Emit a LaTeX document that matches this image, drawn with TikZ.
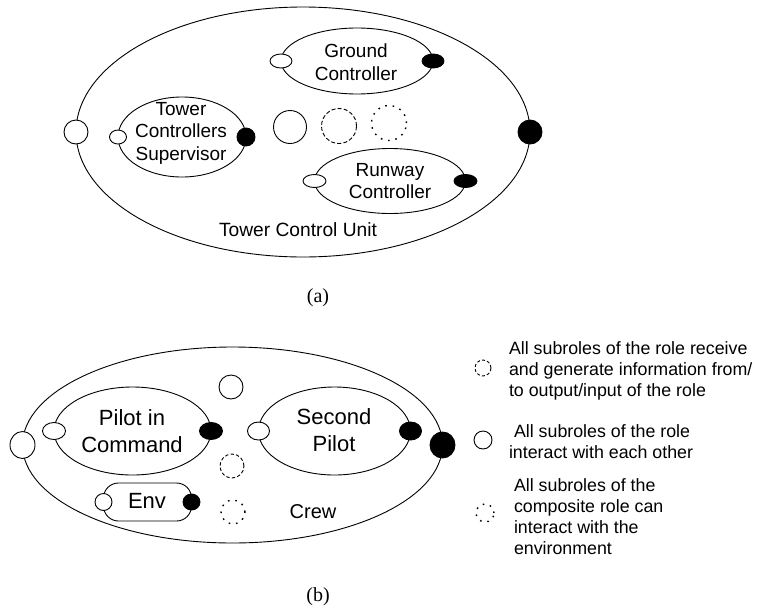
\documentclass[tikz,border=0pt]{standalone}
\usepackage{fontspec}
\setmainfont{Liberation Sans}
\newfontfamily\capfont{Liberation Serif}
\usetikzlibrary{shapes.geometric}
\usetikzlibrary{positioning}

\begin{document}
\begin{tikzpicture}[
        x=1pt, y=-1pt,
        every node/.style={inner sep=0pt, outer sep=0pt, line width=0.9pt},
        ]
        \tikzstyle{role} = [draw, ellipse];
        \tikzstyle{inport} = [draw, ellipse, fill=white];
        \tikzstyle{outport} = [draw, ellipse, fill=black];
        \tikzstyle{ring} = [draw, circle];
        \tikzstyle{dashring} = [draw, circle, dash pattern=on 4pt off 2.2pt];
        \tikzstyle{dotring} = [draw, circle, line width=1.4pt, dash pattern=on 1.6pt off 5.8pt];
        \tikzstyle{roletext} = [align=center];
        \newcommand{\topsize}{\fontsize{19}{22.5}\selectfont}
        \newcommand{\botsize}{\fontsize{22}{27}\selectfont}
        \newcommand{\keysize}{\fontsize{17.8}{21}\selectfont}
        \useasboundingbox (0,0) rectangle (758,611);

        % (a) tower control unit
        \node [role, minimum width=454, minimum height=250] (unit) at (303,132) {};
        \node [role, minimum width=128, minimum height=80] (super) at (182,137) {};
        \node [role, minimum width=152, minimum height=66] (ground) at (357,61) {};
        \node [role, minimum width=151, minimum height=65] (runway) at (390,181) {};
        \node [roletext, font=\topsize] (supertext) at (181,133) {Tower\\Controllers\\Supervisor};
        \node [roletext, font=\topsize] (groundtext) at (356,62) {Ground\\Controller};
        \node [roletext, font=\topsize] (runwaytext) at (390,181) {Runway\\Controller};
        \node [font=\fontsize{19.2}{22}\selectfont] (unittext) at (298,230) {Tower Control Unit};
        \node [inport, minimum width=24, minimum height=24] (unitin) at (unit.west) {};
        \node [outport, minimum width=24, minimum height=24] (unitout) at (unit.east) {};
        \node [inport, minimum width=17, minimum height=14] (superin) at (super.west) {};
        \node [outport, minimum width=18, minimum height=18] (superout) at (super.east) {};
        \node [inport, minimum width=22, minimum height=14] (groundin) at (ground.west) {};
        \node [outport, minimum width=22, minimum height=14] (groundout) at (ground.east) {};
        \node [inport, minimum width=23, minimum height=13] (runwayin) at (runway.west) {};
        \node [outport, minimum width=23, minimum height=13] (runwayout) at (runway.east) {};
        \node [ring, minimum size=33] (allring) at (290,127) {};
        \node [dashring, minimum size=35] (ioring) at (339,126) {};
        \node [dotring, minimum size=35] (envring) at (389,123) {};
        \node [font=\capfont\fontsize{20}{22}\selectfont] (capa) at (318,298) {(a)};

        % (b) crew
        \node [role, minimum width=420, minimum height=196] (crew) at (232.5,445) {};
        \node [role, minimum width=157, minimum height=88] (pilot) at (132.5,431) {};
        \node [role, minimum width=152, minimum height=88] (second) at (334.5,431) {};
        \node [draw, rounded corners=15pt, minimum width=88, minimum height=38] (env) at (147.5,502) {};
        \node [roletext, font=\botsize] (pilottext) at (132,431) {Pilot in\\Command};
        \node [roletext, font=\botsize] (secondtext) at (334,430) {Second\\Pilot};
        \node [font=\botsize] (envtext) at (147,501) {Env};
        \node [font=\fontsize{20}{24}\selectfont] (crewtext) at (313,512) {Crew};
        \node [inport, minimum width=25, minimum height=27] (crewin) at (crew.west) {};
        \node [outport, minimum width=25, minimum height=26] (crewout) at (crew.east) {};
        \node [inport, minimum width=23, minimum height=17] (pilotin) at (pilot.west) {};
        \node [outport, minimum width=23, minimum height=17] (pilotout) at (pilot.east) {};
        \node [inport, minimum width=22, minimum height=18] (secondin) at (second.west) {};
        \node [outport, minimum width=22, minimum height=18] (secondout) at (second.east) {};
        \node [inport, minimum width=17, minimum height=17] (envin) at (env.west) {};
        \node [outport, minimum width=17, minimum height=16] (envout) at (env.east) {};
        \node [ring, minimum size=24] (crewall) at (231,387) {};
        \node [dashring, dash pattern=on 3.4pt off 2.2pt, minimum size=24] (crewio) at (232,466) {};
        \node [dotring, minimum size=24] (crewenv) at (233,512) {};
        \node [font=\capfont\fontsize{20}{22}\selectfont] (capb) at (318,597) {(b)};

        % key
        \node [dashring, dash pattern=on 3pt off 2.2pt, minimum size=16] (keyio) at (483,368) {};
        \node [ring, minimum size=18] (keyall) at (483,440) {};
        \node [dotring, minimum size=18] (keyenv) at (485,513) {};
        \node [align=left, anchor=west, font=\keysize] (keyiotext) at (509,371)
            {All subroles of the role receive\\and generate information from/\\to output/input of the role};
        \node [align=left, anchor=west, font=\keysize] (keyalltext) at (509,442)
            {\hspace{5pt}All subroles of the role\\interact with each other};
        \node [align=left, anchor=west, font=\keysize] (keyenvtext) at (514,517)
            {All subroles of the\\composite role can\\interact with the\\environment};
    \end{tikzpicture}
\end{document}
